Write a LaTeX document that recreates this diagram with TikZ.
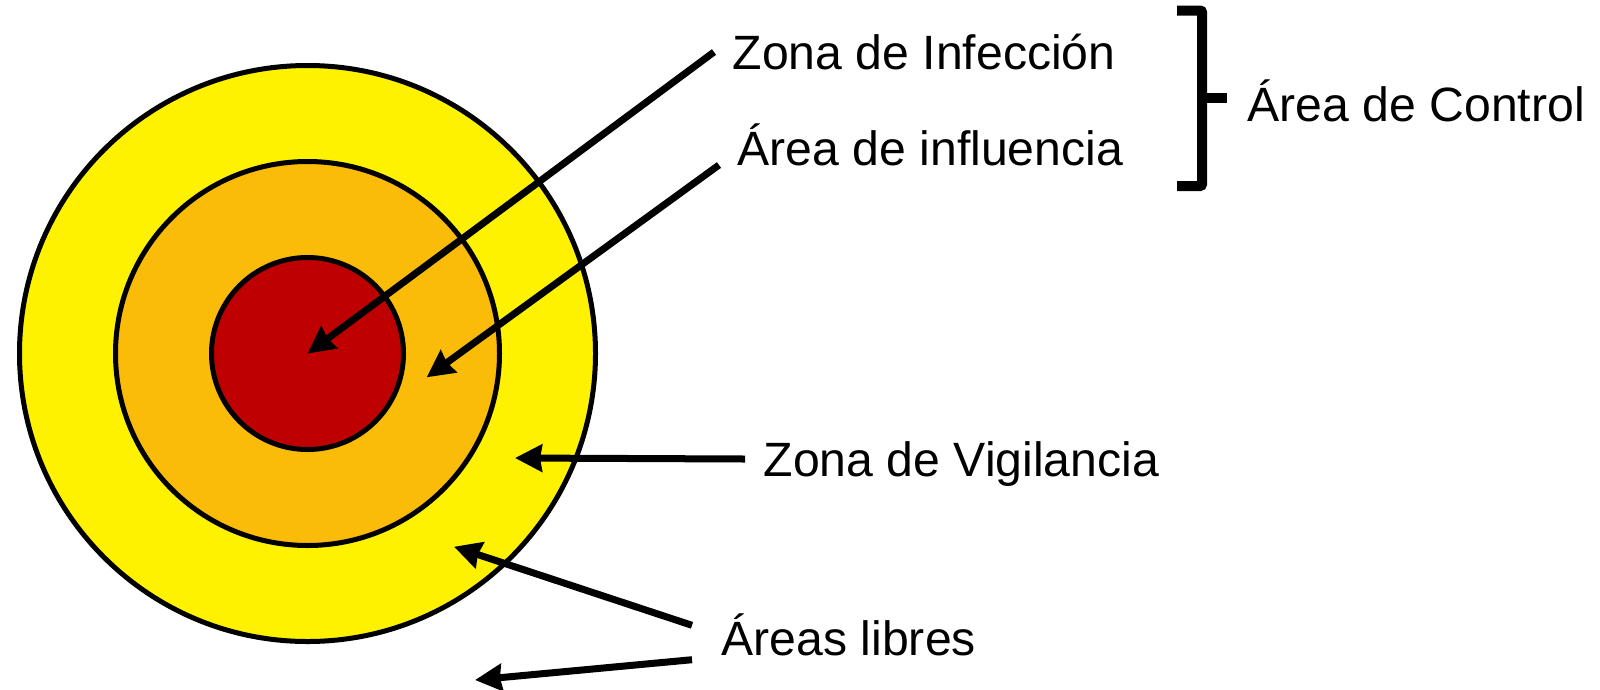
\documentclass[tikz,border=0pt]{standalone}
\usepackage{fontspec}
\setmainfont{Liberation Sans}
\usepackage{tikz}
\usetikzlibrary{
    arrows.meta,
    positioning
}
\tikzset{
    % Colors
    infection zone/.style={fill=red!75!black},
    influence zone/.style={fill=yellow!75!red},
    vigilance zone/.style={fill=yellow},
    ring/.style={draw=black,line width=0.05cm},
    %
    % Labels
    zone label/.style={anchor=base west,inner xsep=0.18cm,inner ysep=0.04cm,text height=0.34cm,text depth=0cm},
    %
    % Arrows
    arrow tip/.tip={Stealth[length=0.27cm,width=0.27cm,inset=0.02cm]},
    arr/.style={->,>={arrow tip},line width=0.07cm},
    bracket/.style={line width=0.1cm,rounded corners=0.02cm}
}
\tikzstyle{every node}=[font=\fontsize{13.7}{16}\selectfont]

\begin{document}
\begin{tikzpicture}
        \useasboundingbox (0,0) rectangle (16,6.89);
        \coordinate (centre) at (3.075,3.355);
        \draw[ring,vigilance zone] (centre) circle (2.88);
        \draw[ring,influence zone] (centre) circle (1.92);
        \draw[ring,infection zone] (centre) circle (0.96);
        % arrow targets
        \coordinate (influence point) at (4.267,3.117);
        \coordinate (vigilance point) at (5.15,2.31);
        \coordinate (free inner) at (4.54,1.423);
        \coordinate (free outer) at (4.75,0.09);
        % labels
        \node[zone label] (zi) at (7.14,6.20) {Zona de Infección};
        \node[zone label] (ai) at (7.19,5.24) {Área de influencia};
        \node[zone label] (ac) at (12.29,5.68) {Área de Control};
        \node[zone label] (zv) at (7.45,2.13) {Zona de Vigilancia};
        \node[zone label,inner xsep=0.29cm,text height=0.25cm] (al) at (6.92,0.34) {Áreas libres};
        \draw[arr] (zi.west) -- (centre);
        \draw[arr] (ai.base west) -- (influence point);
        \draw[arr] (zv.west) -- (vigilance point);
        \draw[arr] (al.north west) -- (free inner);
        \draw[arr] (al.south west) -- (free outer);
        % control bracket
        \draw[bracket] (11.77,6.785) -- (12.02,6.785) -- (12.02,5.03) -- (11.77,5.03);
        \draw[bracket] (12.02,5.915) -- (12.27,5.915);
    \end{tikzpicture}
\end{document}
